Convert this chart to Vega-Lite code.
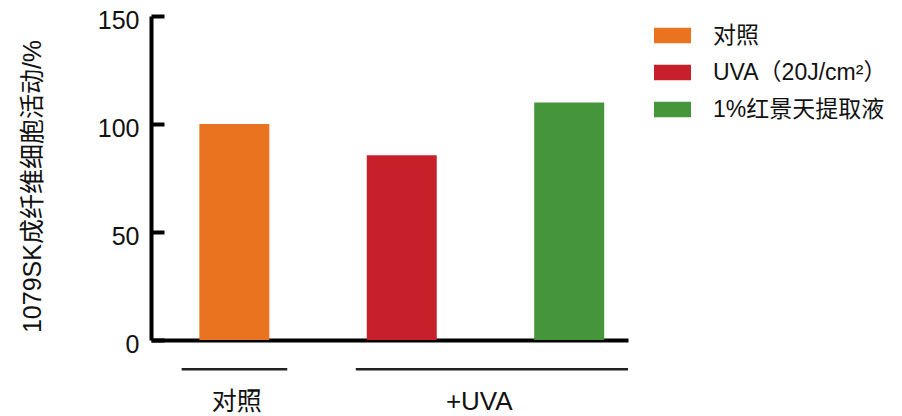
{
  "$schema": "https://vega.github.io/schema/vega-lite/v6.json",
  "width": 477,
  "height": 324,
  "autosize": {"type": "none"},
  "padding": {"left": 151, "top": 16, "right": 274, "bottom": 76},
  "background": "white",
  "config": {
    "view": {"stroke": null},
    "font": "Liberation Sans, Noto Sans CJK SC",
    "axis": {"grid": false}
  },
  "datasets": {
    "bars": [
      {"group": "对照", "value": 100},
      {"group": "UVA（20J/cm²）", "value": 85.5},
      {"group": "1%红景天提取液", "value": 110}
    ],
    "groups": [
      {"label": "对照", "from": "对照", "to": "对照"},
      {"label": "+UVA", "from": "UVA（20J/cm²）", "to": "1%红景天提取液"}
    ]
  },
  "layer": [
    {
      "data": {"name": "bars"},
      "mark": {"type": "bar"},
      "encoding": {
        "x": {
          "field": "group",
          "type": "nominal",
          "scale": {
            "domain": ["对照", "UVA（20J/cm²）", "1%红景天提取液"],
            "paddingInner": 0.582,
            "paddingOuter": 0.2155,
            "align": 0.67
          },
          "axis": {"title": null, "labels": false, "ticks": false, "domainWidth": 4, "domainColor": "#000000"}
        },
        "y": {
          "field": "value",
          "type": "quantitative",
          "scale": {"domain": [0, 150], "nice": false},
          "axis": {
            "values": [0, 50, 100, 150],
            "title": "1079SK成纤维细胞活动/%",
            "titleFont": "Liberation Sans, Noto Sans CJK SC",
            "titleFontSize": 25,
            "titleFontWeight": "normal",
            "titleColor": "#111111",
            "titleX": -106,
            "titleY": 170,
            "titleAngle": -90,
            "titleAlign": "center",
            "titleBaseline": "bottom",
            "domainWidth": 4,
            "domainColor": "#000000",
            "tickWidth": 4,
            "tickColor": "#000000",
            "tickSize": -13,
            "labelFontSize": 25,
            "labelColor": "#111111",
            "labelPadding": 25,
            "labelFlush": false,
            "labelOffset": 4
          }
        },
        "color": {
          "field": "group",
          "type": "nominal",
          "scale": {
            "domain": ["对照", "UVA（20J/cm²）", "1%红景天提取液"],
            "range": ["#E9731E", "#C8202B", "#45963A"]
          },
          "legend": {
            "title": null,
            "orient": "none",
            "legendX": 503,
            "legendY": 1,
            "padding": 0,
            "symbolType": "M-1,-0.42H1V0.42H-1Z",
            "symbolSize": 1369,
            "symbolStrokeWidth": 0,
            "symbolOpacity": 1,
            "labelFontSize": 23,
            "labelColor": "#111111",
            "labelOffset": 22,
            "rowPadding": 6,
            "labelLimit": 400
          }
        }
      }
    },
    {
      "data": {"name": "groups"},
      "transform": [{"filter": "datum.label === '对照'"}],
      "mark": {"type": "rule", "xOffset": -17.7, "x2Offset": 17.9, "strokeWidth": 2.5, "color": "#222222"},
      "encoding": {
        "x": {"field": "from", "type": "nominal", "bandPosition": 0, "axis": {"title": null}},
        "x2": {"field": "to", "bandPosition": 1},
        "y": {"datum": -13.5, "type": "quantitative"}
      }
    },
    {
      "data": {"name": "groups"},
      "transform": [{"filter": "datum.label === '+UVA'"}],
      "mark": {"type": "rule", "xOffset": -11, "x2Offset": 23.8, "strokeWidth": 2.5, "color": "#222222"},
      "encoding": {
        "x": {"field": "from", "type": "nominal", "bandPosition": 0, "axis": {"title": null}},
        "x2": {"field": "to", "bandPosition": 1},
        "y": {"datum": -13.5, "type": "quantitative"}
      }
    },
    {
      "data": {"name": "groups"},
      "transform": [{"filter": "datum.label === '对照'"}],
      "mark": {"type": "text", "xOffset": 2.3, "fontSize": 25, "color": "#111111", "baseline": "middle", "align": "center"},
      "encoding": {
        "x": {"field": "from", "type": "nominal", "bandPosition": 0.5, "axis": {"title": null}},
        "y": {"datum": -28.7, "type": "quantitative"},
        "text": {"field": "label"}
      }
    },
    {
      "data": {"name": "groups"},
      "transform": [{"filter": "datum.label === '+UVA'"}],
      "mark": {"type": "text", "xOffset": 77.5, "fontSize": 26, "color": "#111111", "baseline": "middle", "align": "center"},
      "encoding": {
        "x": {"field": "from", "type": "nominal", "bandPosition": 0.5, "axis": {"title": null}},
        "y": {"datum": -28.7, "type": "quantitative"},
        "text": {"field": "label"}
      }
    }
  ]
}
